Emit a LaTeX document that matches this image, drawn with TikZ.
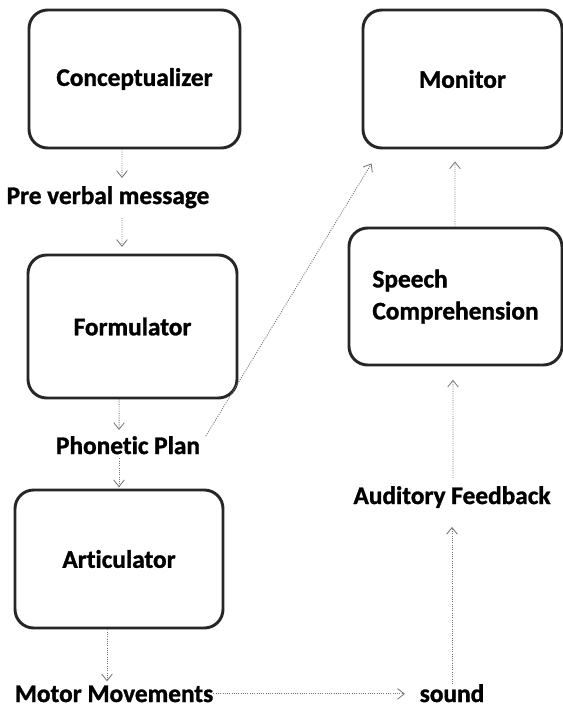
\documentclass[tikz,border=0pt]{standalone}
\usepackage{fontspec}
\setmainfont[Ligatures={NoCommon}, BoldFeatures={FakeBold=1.2}]{Carlito}
\usetikzlibrary{arrows.meta}
\begin{document}
\begin{tikzpicture}[x=0.75pt,y=-0.75pt,
  txt/.style={font=\bfseries\fontsize{19}{24}\selectfont},
  blk/.style={txt, draw=black!85, line width=2.2pt, rounded corners=14pt, inner sep=0pt, fill=white},
  lbl/.style={txt, inner sep=0pt, anchor=base},
  conn/.style={draw=black!55, densely dotted, line width=0.7pt,
    -{Straight Barb[length=5pt,width=8pt,line width=0.6pt]}}
]
\useasboundingbox (0,0) rectangle (563,707);
% boxes
\node[blk, minimum width=158.25pt, minimum height=103.5pt] (concept) at (134.5,79) {Conceptualizer};
\node[blk, minimum width=149.25pt, minimum height=103.5pt] (monitor) at (462.5,79) {Monitor};
\node[blk, minimum width=156.75pt, minimum height=107.25pt] (form) at (132.5,326.5) {Formulator};
\node[blk, minimum width=159.75pt, minimum height=102.75pt, align=left] (speech) at (455.5,296.5) {Speech\\Comprehension};
\node[blk, minimum width=156pt, minimum height=103.5pt] (artic) at (119,559) {Articulator};
% labels
\node[lbl] (pv) at (108,204) {Pre verbal message};
\node[lbl] (pp) at (128,454) {Phonetic Plan};
\node[lbl] (mm) at (114,702) {Motor Movements};
\node[lbl] (snd) at (452,702) {sound};
\node[lbl] (af) at (452,504) {Auditory Feedback};
% connectors
\draw[conn, shorten >=6pt] ([xshift=-9.4pt]concept.south) -- ([xshift=10.5pt]pv.north);
\draw[conn, shorten <=7pt, shorten >=5pt] ([xshift=10.5pt]pv.south) -- ([xshift=-7.9pt]form.north);
\draw[conn, shorten >=4.5pt] ([xshift=-10pt]form.south) -- ([xshift=-6.75pt]pp.north);
\draw[conn, shorten <=3pt, shorten >=1pt] ([xshift=-6.75pt]pp.south) -- (artic.north);
\draw[conn, shorten >=3pt] ([xshift=-9pt]artic.south) -- ([xshift=-5.25pt]mm.north);
\draw[conn, shorten >=11pt] (mm.east) -- (mm.east -| snd.west);
\draw[conn, shorten >=14pt] (snd.north) -- (af.south);
\draw[conn, shorten <=6pt, shorten >=10pt] ([xshift=0.75pt]af.north) -- ([xshift=-1.9pt]speech.south);
\draw[conn, shorten >=9pt] ([xshift=-0.4pt]speech.north) -- ([xshift=-5.6pt]monitor.south);
\draw[conn, shorten <=8pt] (pp.east) -- ([xshift=7.5pt,yshift=-10.5pt]monitor.south west);
\end{tikzpicture}
\end{document}
